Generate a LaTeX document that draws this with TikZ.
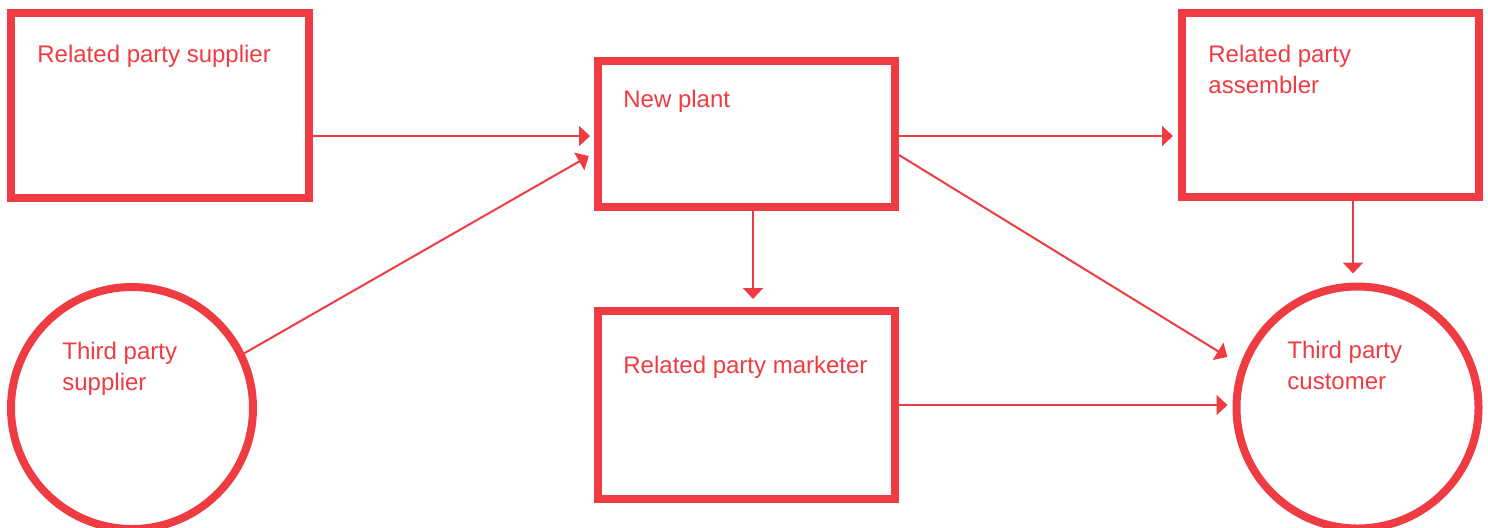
\documentclass[tikz,border=0pt]{standalone}
\usepackage{fontspec}
\setmainfont{Liberation Sans}
\usetikzlibrary{arrows.meta}
\definecolor{partyred}{RGB}{239,59,66}

\begin{document}
\begin{tikzpicture}[x = 0.5pt, y = -0.5pt,
  box/.style = {draw = partyred, line width = 4pt, rectangle, minimum width = 148.5pt},
  party/.style = {draw = partyred, line width = 4pt, circle, minimum size = 121pt, inner sep = 0pt},
  txt/.style = {anchor = base west, inner sep = 0pt, align = left, text = partyred, font = \fontsize{12pt}{15.5pt}\selectfont},
  arr/.style = {draw = partyred, line width = 1pt, -{Triangle[length = 5.5pt, width = 10pt]}}]
\useasboundingbox (0,0) rectangle (1488,527);

\node[box, minimum width = 149pt, minimum height = 92.5pt] (rps) at (160,105.5) {};
\node[box, minimum height = 73pt] (np) at (746.5,134) {};
\node[box, minimum height = 92pt] (rpa) at (1330.5,105) {};
\node[box, minimum height = 94pt] (rpm) at (746.5,405) {};
\node[party] (tps) at (132,408) {};
\node[party] (tpc) at (1357.5,407.5) {};

% two-line labels sit on their last baseline
\node[txt] (rpstxt) at (37,62) {Related party supplier};
\node[txt] (nptxt) at (623,107) {New plant};
\node[txt] (rpatxt) at (1208,93) {Related party\\assembler};
\node[txt] (rpmtxt) at (623,373) {Related party marketer};
\node[txt] (tpstxt) at (62,390) {Third party\\supplier};
\node[txt] (tpctxt) at (1287,389) {Third party\\customer};

\draw[arr, shorten >= 2pt] ([yshift = -1pt]np.west -| rps.east) -- ([yshift = -1pt]np.west);
\draw[arr, shorten >= 3pt] (tps.26) -- ([yshift = -9.5pt]np.west);
\draw[arr, shorten >= 2.5pt] ([yshift = -1pt]np.east) -- ([yshift = -1pt]np.east -| rpa.west);
\draw[arr, shorten >= 7.4pt] ([yshift = -10.5pt]np.east) -- (tpc.160);
\draw[arr, shorten >= 4pt] ([xshift = 3.25pt]np.south) -- ([xshift = 3.25pt]rpm.north);
\draw[arr, shorten >= 4.5pt] ([xshift = 11.25pt]rpa.south) -- ([xshift = -2.25pt]tpc.north);
\draw[arr, shorten >= 2.5pt] (rpm.east) -- (rpm.east -| tpc.west);
\end{tikzpicture}
\end{document}
